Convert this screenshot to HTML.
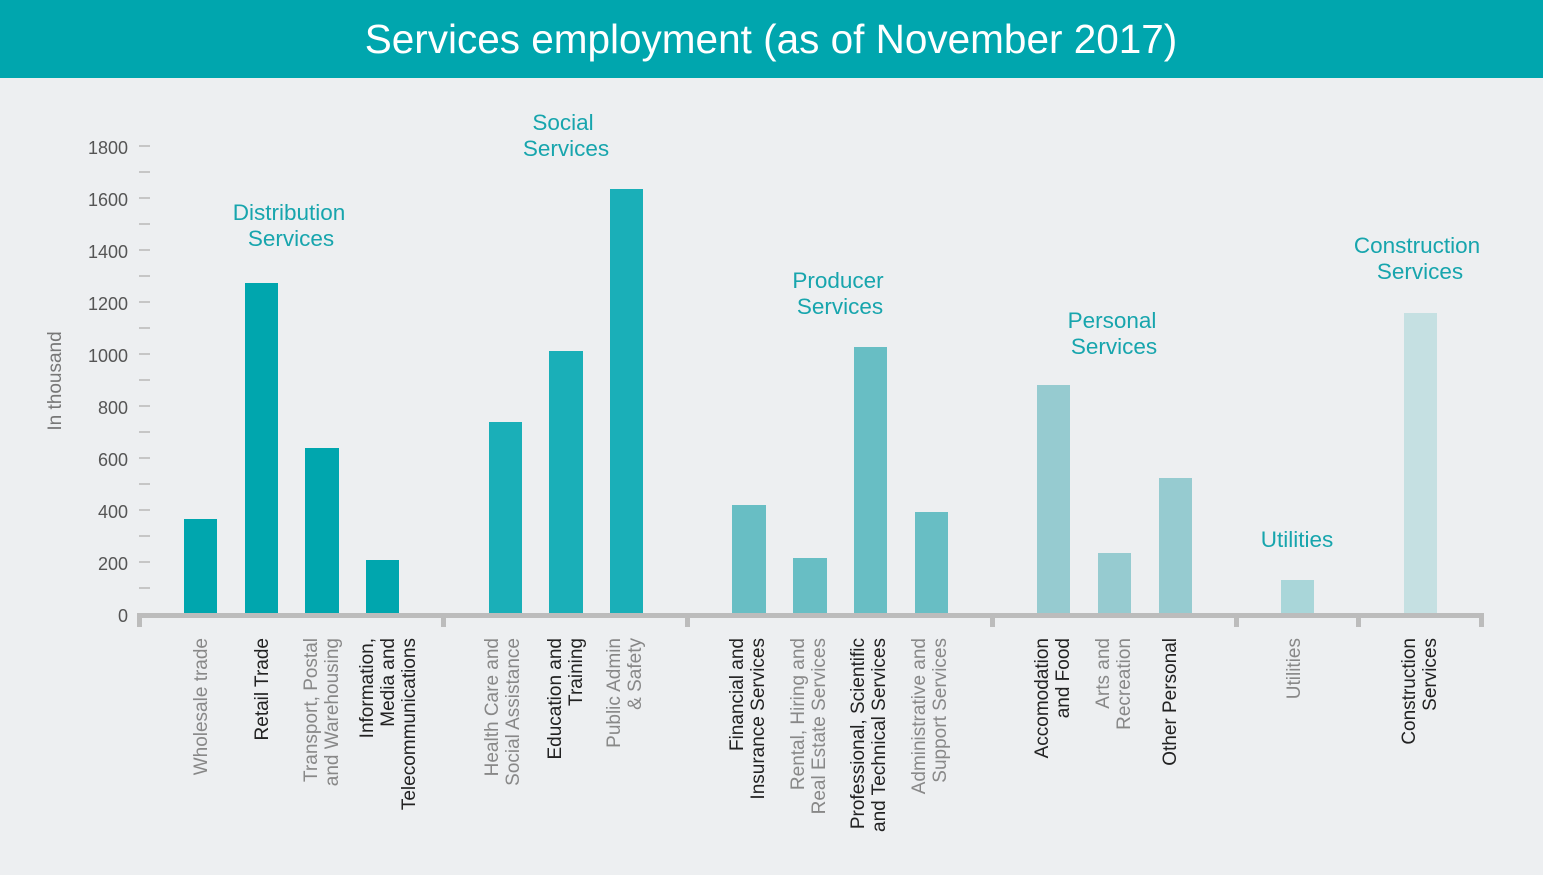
<!DOCTYPE html>
<html><head><meta charset="utf-8"><style>
html,body{margin:0;padding:0;background:#edeff1;}
svg{display:block;font-family:"Liberation Sans",sans-serif;}
</style></head><body>
<svg width="1543" height="875" viewBox="0 0 1543 875" xmlns="http://www.w3.org/2000/svg">
<rect width="1543" height="875" fill="#edeff1"/>
<rect width="1543" height="78" fill="#00a6ae"/>
<text x="771" y="53" fill="#fff" font-size="40.5" text-anchor="middle">Services employment (as of November 2017)</text>
<g fill="#555" font-size="18" text-anchor="end">
<text x="128" y="622">0</text><text x="128" y="570">200</text><text x="128" y="518">400</text>
<text x="128" y="466">600</text><text x="128" y="414">800</text><text x="128" y="362">1000</text>
<text x="128" y="310">1200</text><text x="128" y="258">1400</text><text x="128" y="206">1600</text>
<text x="128" y="154">1800</text>
</g>
<g stroke="#b8b8b8" stroke-width="1.5">
<line x1="139" x2="150" y1="146" y2="146"/><line x1="139" x2="150" y1="172" y2="172"/>
<line x1="139" x2="150" y1="198" y2="198"/><line x1="139" x2="150" y1="224" y2="224"/>
<line x1="139" x2="150" y1="250" y2="250"/><line x1="139" x2="150" y1="276" y2="276"/>
<line x1="139" x2="150" y1="302" y2="302"/><line x1="139" x2="150" y1="328" y2="328"/>
<line x1="139" x2="150" y1="354" y2="354"/><line x1="139" x2="150" y1="380" y2="380"/>
<line x1="139" x2="150" y1="406" y2="406"/><line x1="139" x2="150" y1="432" y2="432"/>
<line x1="139" x2="150" y1="458" y2="458"/><line x1="139" x2="150" y1="484" y2="484"/>
<line x1="139" x2="150" y1="510" y2="510"/><line x1="139" x2="150" y1="536" y2="536"/>
<line x1="139" x2="150" y1="562" y2="562"/><line x1="139" x2="150" y1="588" y2="588"/>
</g>
<text transform="translate(61,381) rotate(-90)" fill="#777" font-size="19" text-anchor="middle">In thousand</text>
<g>
<rect x="184" y="519" width="33" height="95" fill="#00a6ae"/>
<rect x="245" y="283" width="33" height="331" fill="#00a6ae"/>
<rect x="305" y="448" width="34" height="166" fill="#00a6ae"/>
<rect x="366" y="560" width="33" height="54" fill="#00a6ae"/>
<rect x="489" y="422" width="33" height="192" fill="#1aafb8"/>
<rect x="549" y="351" width="34" height="263" fill="#1aafb8"/>
<rect x="610" y="189" width="33" height="425" fill="#1aafb8"/>
<rect x="732" y="505" width="34" height="109" fill="#68bec4"/>
<rect x="793" y="558" width="34" height="56" fill="#68bec4"/>
<rect x="854" y="347" width="33" height="267" fill="#68bec4"/>
<rect x="915" y="512" width="33" height="102" fill="#68bec4"/>
<rect x="1037" y="385" width="33" height="229" fill="#96cbd0"/>
<rect x="1098" y="553" width="33" height="61" fill="#96cbd0"/>
<rect x="1159" y="478" width="33" height="136" fill="#96cbd0"/>
<rect x="1281" y="580" width="33" height="34" fill="#a9d6d9"/>
<rect x="1404" y="313" width="33" height="301" fill="#c5e0e2"/>
</g>
<rect x="137" y="613" width="1347" height="5" fill="#bcbcbc"/>
<g fill="#bcbcbc">
<rect x="137" y="613" width="5" height="14"/><rect x="441" y="613" width="5" height="14"/>
<rect x="685" y="613" width="5" height="14"/><rect x="990" y="613" width="5" height="14"/>
<rect x="1234" y="613" width="5" height="14"/><rect x="1356" y="613" width="5" height="14"/>
<rect x="1479" y="613" width="5" height="14"/>
</g>
<g font-size="19" text-anchor="end">
<text transform="translate(207,638) rotate(-90)" fill="#888">Wholesale trade</text>
<text transform="translate(268,638) rotate(-90)" fill="#222">Retail Trade</text>
<text transform="translate(317,638) rotate(-90)" fill="#888">Transport, Postal</text>
<text transform="translate(338,638) rotate(-90)" fill="#888">and Warehousing</text>
<text transform="translate(373,638) rotate(-90)" fill="#222">Information,</text>
<text transform="translate(394,638) rotate(-90)" fill="#222">Media and</text>
<text transform="translate(415,638) rotate(-90)" fill="#222">Telecommunications</text>
<text transform="translate(498,638) rotate(-90)" fill="#888">Health Care and</text>
<text transform="translate(519,638) rotate(-90)" fill="#888">Social Assistance</text>
<text transform="translate(561,638) rotate(-90)" fill="#222">Education and</text>
<text transform="translate(582,638) rotate(-90)" fill="#222">Training</text>
<text transform="translate(620,638) rotate(-90)" fill="#888">Public Admin</text>
<text transform="translate(641,638) rotate(-90)" fill="#888">&amp; Safety</text>
<text transform="translate(743,638) rotate(-90)" fill="#222">Financial and</text>
<text transform="translate(764,638) rotate(-90)" fill="#222">Insurance Services</text>
<text transform="translate(804,638) rotate(-90)" fill="#888">Rental, Hiring and</text>
<text transform="translate(825,638) rotate(-90)" fill="#888">Real Estate Services</text>
<text transform="translate(864,638) rotate(-90)" fill="#222">Professional, Scientific</text>
<text transform="translate(885,638) rotate(-90)" fill="#222">and Technical Services</text>
<text transform="translate(925,638) rotate(-90)" fill="#888">Administrative and</text>
<text transform="translate(946,638) rotate(-90)" fill="#888">Support Services</text>
<text transform="translate(1048,638) rotate(-90)" fill="#222">Accomodation</text>
<text transform="translate(1069,638) rotate(-90)" fill="#222">and Food</text>
<text transform="translate(1109,638) rotate(-90)" fill="#888">Arts and</text>
<text transform="translate(1130,638) rotate(-90)" fill="#888">Recreation</text>
<text transform="translate(1176,638) rotate(-90)" fill="#222">Other Personal</text>
<text transform="translate(1300,638) rotate(-90)" fill="#888">Utilities</text>
<text transform="translate(1415,638) rotate(-90)" fill="#222">Construction</text>
<text transform="translate(1436,638) rotate(-90)" fill="#222">Services</text>
</g>
<g fill="#17a5ad" font-size="22.5" text-anchor="middle">
<text x="289" y="220">Distribution</text><text x="291" y="246">Services</text>
<text x="563" y="130">Social</text><text x="566" y="156">Services</text>
<text x="838" y="288">Producer</text><text x="840" y="314">Services</text>
<text x="1112" y="328">Personal</text><text x="1114" y="354">Services</text>
<text x="1297" y="547">Utilities</text>
<text x="1417" y="253">Construction</text><text x="1420" y="279">Services</text>
</g>
</svg>
</body></html>
